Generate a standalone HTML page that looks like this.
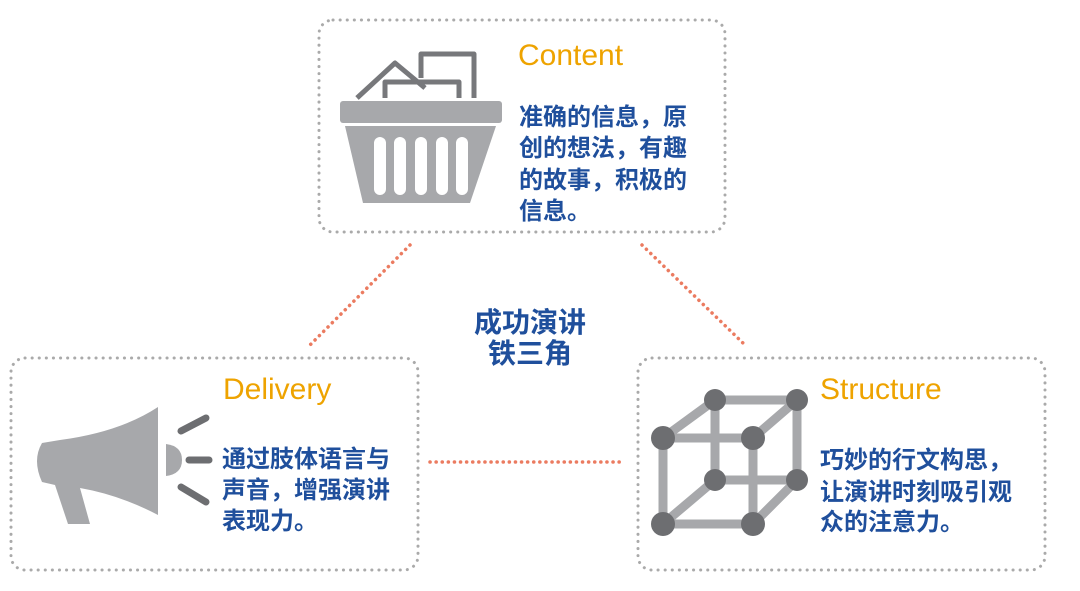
<!DOCTYPE html>
<html><head><meta charset="utf-8"><style>
body{margin:0;background:#fff;}
svg{display:block}
.t{font-family:"Liberation Sans","Noto Sans CJK SC",sans-serif;}
.h{fill:#eea300;font-size:30px;}
.b{fill:#1f4f9c;font-size:24px;font-weight:bold;}
.c{fill:#1f4f9c;font-size:28px;font-weight:bold;}
</style></head><body>
<svg width="1080" height="591" viewBox="0 0 1080 591">
<g fill="none" stroke="#aaa" stroke-width="3" stroke-dasharray="0.1 7" stroke-linecap="round">
<rect x="319" y="20" width="406" height="212" rx="14"/>
<rect x="11" y="358" width="407" height="212" rx="14"/>
<rect x="638" y="358" width="407" height="212" rx="14"/>
</g>
<g fill="none" stroke-width="3.5" stroke-dasharray="0.1 6" stroke-linecap="round">
<line x1="410" y1="245" x2="310" y2="345" stroke="#e65a38" opacity="0.8"/>
<line x1="642" y1="245" x2="745" y2="345" stroke="#e65a38" opacity="0.8"/>
<line x1="430" y1="462" x2="625" y2="462" stroke="#e65a38" opacity="0.8"/>
</g>
<!-- basket -->
<g fill="none" stroke="#77787b" stroke-width="5" stroke-linejoin="round">
<polyline points="357,98 395,63 425,88"/>
<polyline points="385,98 385,82 459,82 459,98"/>
<polyline points="421,78 421,54 474,54 474,98"/>
</g>
<rect x="340" y="101" width="162" height="22" rx="3" fill="#a7a8ab"/>
<polygon points="345,126 496,126 470,203 363,203" fill="#a7a8ab"/>
<g fill="#fff"><rect x="374" y="137" width="12" height="58" rx="6"/><rect x="394" y="137" width="12" height="58" rx="6"/><rect x="415" y="137" width="12" height="58" rx="6"/><rect x="436" y="137" width="12" height="58" rx="6"/><rect x="456" y="137" width="12" height="58" rx="6"/></g>
<!-- megaphone -->
<path d="M158,407 L158,515 Q120,495 80,488 L90,524 L68,524 L55,485 L42,482 Q32,460 42,443 L60,440 Q120,432 158,407 Z" fill="#a7a8ab"/>
<path d="M166,444 Q182,446 182,460 Q182,474 166,476 Z" fill="#a7a8ab"/>
<g stroke="#6d6e71" stroke-width="7" stroke-linecap="round"><line x1="181" y1="431" x2="206" y2="418"/><line x1="189" y1="460" x2="209" y2="460"/><line x1="181" y1="487" x2="206" y2="502"/></g>
<!-- cube -->
<g stroke="#a7a8ab" stroke-width="9" fill="none">
<line x1="715" y1="400" x2="797" y2="400"/><line x1="663" y1="438" x2="753" y2="438"/><line x1="715" y1="480" x2="797" y2="480"/><line x1="663" y1="524" x2="753" y2="524"/>
<line x1="663" y1="438" x2="663" y2="524"/><line x1="753" y1="438" x2="753" y2="524"/><line x1="715" y1="400" x2="715" y2="480"/><line x1="797" y1="400" x2="797" y2="480"/>
<line x1="663" y1="438" x2="715" y2="400"/><line x1="753" y1="438" x2="797" y2="400"/><line x1="663" y1="524" x2="715" y2="480"/><line x1="753" y1="524" x2="797" y2="480"/>
</g>
<g fill="#6d6e71"><circle cx="663" cy="438" r="12"/><circle cx="715" cy="400" r="11"/><circle cx="797" cy="400" r="11"/><circle cx="753" cy="438" r="12"/><circle cx="715" cy="480" r="11"/><circle cx="797" cy="480" r="11"/><circle cx="663" cy="524" r="12"/><circle cx="753" cy="524" r="12"/></g>
<g class="t">
<text x="518" y="65" class="h">Content</text>
<text x="519" y="125" class="b">准确的信息，原</text>
<text x="519" y="156" class="b">创的想法，有趣</text>
<text x="519" y="188" class="b">的故事，积极的</text>
<text x="519" y="219" class="b">信息。</text>
<text x="223" y="399" class="h">Delivery</text>
<text x="222" y="467" class="b">通过肢体语言与</text>
<text x="222" y="498" class="b">声音，增强演讲</text>
<text x="222" y="529" class="b">表现力。</text>
<text x="820" y="399" class="h">Structure</text>
<text x="820" y="468" class="b">巧妙的行文构思，</text>
<text x="820" y="500" class="b">让演讲时刻吸引观</text>
<text x="820" y="530" class="b">众的注意力。</text>
<text x="530" y="332" class="c" text-anchor="middle">成功演讲</text>
<text x="530" y="363" class="c" text-anchor="middle">铁三角</text>
</g>
</svg>
</body></html>
